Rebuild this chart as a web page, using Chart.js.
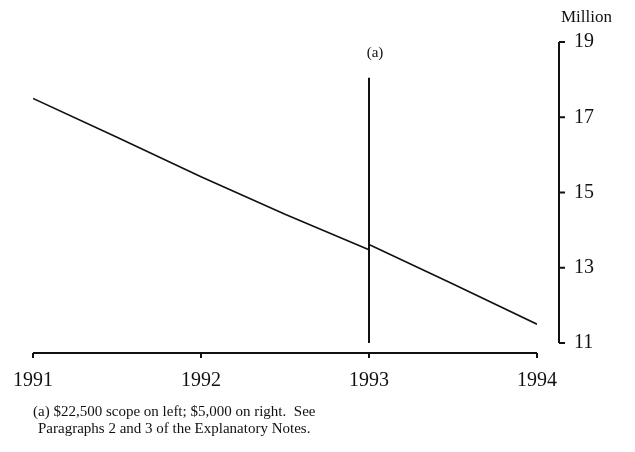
<!DOCTYPE html>
<html>
<head>
<meta charset="utf-8">
<script src="https://cdn.jsdelivr.net/npm/chart.js@4"></script>
<style>
  body { margin: 0; background: #fff; }
  #wrap { position: relative; width: 635px; height: 452px; }
  .note { position: absolute; font-family: "Liberation Serif", serif; font-size: 15px; line-height: 17px; color: #111; white-space: pre; }
</style>
</head>
<body>
<div id="wrap">
  <canvas id="chart" width="635" height="452"></canvas>
  <div class="note" style="left:33px; top:403px;">(a) $22,500 scope on left; $5,000 on right.  See</div>
  <div class="note" style="left:38px; top:420px;">Paragraphs 2 and 3 of the Explanatory Notes.</div>
</div>
<script>
// years along the bottom, millions on the right
const xTicks = [1991, 1992, 1993, 1994];
const yTicks = [11, 13, 15, 17, 19];

// old scope ($22,500), up to 1993
const leftYears = [1991, 1991.5, 1992, 1992.5, 1993];
const leftValues = [17.5, 16.47, 15.42, 14.42, 13.48];

// new scope ($5,000), from 1993
const rightYears = [1993, 1993.5, 1994];
const rightValues = [13.62, 12.57, 11.5];

// break marker at 1993
const breakYears = [1993, 1993];
const breakValues = [11, 18.05];

const ink = '#111';
const serif = '"Liberation Serif", serif';

function pts(xs, ys) {
    return xs.map((x, i) => ({ x: x, y: ys[i] }));
}

const axesPlugin = {
    id: 'axesPlugin',
    afterDraw(chart) {
        const ctx = chart.ctx;
        const xs = chart.scales.x;
        const ys = chart.scales.y;
        const area = chart.chartArea;
        ctx.save();
        ctx.strokeStyle = ink;
        ctx.lineWidth = 2;

        // bottom axis, sits a bit under the plot
        const by = area.bottom + 10;
        ctx.beginPath();
        ctx.moveTo(xs.getPixelForValue(xTicks[0]), by);
        ctx.lineTo(xs.getPixelForValue(xTicks[xTicks.length - 1]), by);
        xTicks.forEach(t => {
            const px = xs.getPixelForValue(t);
            ctx.moveTo(px, by);
            ctx.lineTo(px, by + 5);
        });
        ctx.stroke();

        // right axis, detached from the plot
        const rx = area.right + 22;
        ctx.beginPath();
        ctx.moveTo(rx, ys.getPixelForValue(yTicks[0]));
        ctx.lineTo(rx, ys.getPixelForValue(yTicks[yTicks.length - 1]));
        yTicks.forEach(t => {
            const py = ys.getPixelForValue(t);
            ctx.moveTo(rx, py);
            ctx.lineTo(rx + 6, py);
        });
        ctx.stroke();

        ctx.fillStyle = ink;
        ctx.textBaseline = 'middle';
        ctx.textAlign = 'left';
        ctx.font = '17px ' + serif;
        ctx.fillText('Million', 561, 18);

        ctx.textAlign = 'center';
        ctx.font = '15px ' + serif;
        ctx.fillText('(a)', xs.getPixelForValue(1993) + 6, 53);
        ctx.restore();
    }
};

new Chart(document.getElementById('chart').getContext('2d'), {
    type: 'line',
    data: {
        datasets: [{
            data: pts(leftYears, leftValues),
            borderColor: ink,
            borderWidth: 1.6,
            pointRadius: 0,
            tension: 0
        }, {
            data: pts(rightYears, rightValues),
            borderColor: ink,
            borderWidth: 1.6,
            pointRadius: 0,
            tension: 0
        }, {
            data: pts(breakYears, breakValues),
            borderColor: ink,
            borderWidth: 2,
            pointRadius: 0
        }]
    },
    options: {
        responsive: false,
        animation: false,
        events: [],
        layout: { padding: { left: 33, top: 42, right: 0, bottom: 0 } },
        plugins: {
            legend: { display: false },
            tooltip: { enabled: false }
        },
        scales: {
            x: {
                type: 'linear',
                min: 1991,
                max: 1994,
                afterFit: s => { s.height = 109; s.paddingLeft = 0; s.paddingRight = 0; },
                afterBuildTicks: s => { s.ticks = xTicks.map(v => ({ value: v })); },
                grid: { display: false, drawTicks: false },
                border: { display: false },
                ticks: {
                    color: ink,
                    font: { family: serif, size: 20 },
                    padding: 26,
                    maxRotation: 0,
                    callback: v => String(v)
                }
            },
            y: {
                position: 'right',
                min: 11,
                max: 19,
                afterFit: s => { s.width = 98; s.paddingTop = 0; s.paddingBottom = 0; },
                afterBuildTicks: s => { s.ticks = yTicks.map(v => ({ value: v })); },
                grid: { display: false, drawTicks: false },
                border: { display: false },
                ticks: {
                    color: ink,
                    font: { family: serif, size: 20 },
                    padding: 37
                }
            }
        }
    },
    plugins: [axesPlugin]
});
</script>
</body>
</html>
